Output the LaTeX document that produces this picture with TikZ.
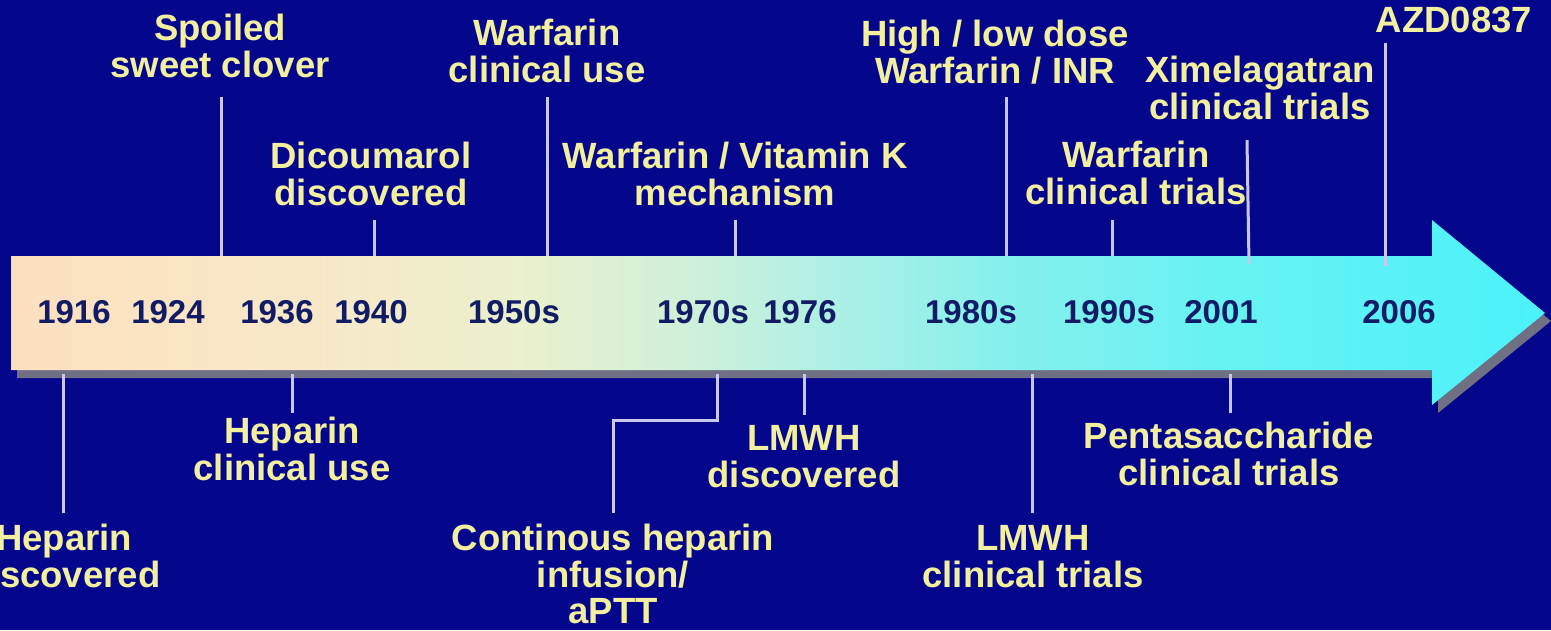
\documentclass[tikz,border=0pt]{standalone}
\usepackage{fontspec}
\setmainfont{Liberation Sans}
\definecolor{bg}{RGB}{4,6,140}
\definecolor{labc}{RGB}{242,240,158}
\definecolor{yrc}{RGB}{18,28,100}
\definecolor{tickc}{RGB}{200,200,236}
\definecolor{shadowc}{RGB}{112,112,132}
\definecolor{c0}{RGB}{252,224,192}
\definecolor{c1}{RGB}{248,232,200}
\definecolor{c2}{RGB}{235,240,205}
\definecolor{c3}{RGB}{205,240,218}
\definecolor{c4}{RGB}{170,240,230}
\definecolor{c5}{RGB}{135,240,236}
\definecolor{c6}{RGB}{105,242,242}
\definecolor{c7}{RGB}{75,242,250}
\pgfdeclarehorizontalshading{arrowshade}{100bp}{color(0bp)=(c0); color(25bp)=(c0); color(34.4bp)=(c1); color(41.6bp)=(c2); color(47.5bp)=(c3); color(52.3bp)=(c4); color(57.2bp)=(c5); color(63.8bp)=(c6); color(75bp)=(c7); color(100bp)=(c7)}
\newcommand\stk[1]{\begin{tabular}[t]{@{}c@{}}#1\end{tabular}}
\tikzset{
  lab/.style={text=labc, font=\fontsize{36.5}{36}\selectfont\bfseries, inner sep=0pt, anchor=base},
  yr/.style={text=yrc, font=\fontsize{33}{33}\selectfont\bfseries, inner sep=0pt, anchor=base},
  tickline/.style={draw=tickc, line width=3pt},
}
\begin{document}
\begin{tikzpicture}[x=1pt,y=-1pt]
\useasboundingbox (0,0) rectangle (1551,630);
\clip (0,0) rectangle (1551,630);
\fill[bg] (0,0) rectangle (1551,630);
% arrow shadow and arrow
\fill[shadowc] (17,264) -- (1438,264) -- (1438,228) -- (1551,321) -- (1438,413) -- (1438,378) -- (17,378) -- cycle;
\shade[shading=arrowshade] (11,256) -- (1432,256) -- (1432,220) -- (1545,313) -- (1432,405) -- (1432,370) -- (11,370) -- cycle;
% years
\node[yr] (y1916) at (74,323) {1916};
\node[yr] (y1924) at (168,323) {1924};
\node[yr] (y1936) at (277,323) {1936};
\node[yr] (y1940) at (371,323) {1940};
\node[yr] (y1950) at (514,323) {1950s};
\node[yr] (y1970) at (703,323) {1970s};
\node[yr] (y1976) at (800,323) {1976};
\node[yr] (y1980) at (971,323) {1980s};
\node[yr] (y1990) at (1109,323) {1990s};
\node[yr] (y2001) at (1221,323) {2001};
\node[yr] (y2006) at (1399,323) {2006};
% top labels
\node[lab] (sp) at (220,40) {\stk{Spoiled\\sweet clover}};
\node[lab] (dc) at (371,168) {\stk{Dicoumarol\\discovered}};
\node[lab] (wc) at (547,45) {\stk{Warfarin\\clinical use}};
\node[lab] (wv) at (735,168) {\stk{Warfarin / Vitamin K\\mechanism}};
\node[lab] (hl) at (995,46) {\stk{High / low dose\\Warfarin / INR}};
\node[lab] (xi) at (1260,82) {\stk{Ximelagatran\\clinical trials}};
\node[lab] (wt) at (1136,167) {\stk{Warfarin\\clinical trials}};
\node[lab] (az) at (1454,32) {AZD0837};
% bottom labels
\node[lab] (hd) at (64,550) {\stk{Heparin\\discovered}};
\node[lab] (hc) at (292,443) {\stk{Heparin\\clinical use}};
\node[lab] (ch) at (613,550) {\stk{Continous heparin\\infusion/\\aPTT}};
\node[lab] (lm) at (804,450) {\stk{LMWH\\discovered}};
\node[lab] (lc) at (1033,550) {\stk{LMWH\\clinical trials}};
\node[lab] (pc) at (1229,448) {\stk{Pentasaccharide\\clinical trials}};
% tick end points
\coordinate (sp1) at (221,97);   \coordinate (sp2) at (221,256);
\coordinate (dc1) at (374,220);  \coordinate (dc2) at (374,256);
\coordinate (wc1) at (547,97);   \coordinate (wc2) at (547,256);
\coordinate (wv1) at (735,220);  \coordinate (wv2) at (735,256);
\coordinate (hl1) at (1006,97);  \coordinate (hl2) at (1006,256);
\coordinate (xi1) at (1247,140); \coordinate (xi2) at (1249,264);
\coordinate (wt1) at (1112,220); \coordinate (wt2) at (1112,256);
\coordinate (az1) at (1385,43);  \coordinate (az2) at (1385,266);
\coordinate (hd1) at (63,374);   \coordinate (hd2) at (63,513);
\coordinate (hc1) at (292,374);  \coordinate (hc2) at (292,413);
\coordinate (ch1) at (717,374);  \coordinate (ch2) at (613,513);
\coordinate (lm1) at (804,374);  \coordinate (lm2) at (804,415);
\coordinate (lc1) at (1032,374); \coordinate (lc2) at (1032,513);
\coordinate (pc1) at (1230,374); \coordinate (pc2) at (1230,413);
% ticks
\draw[tickline] (sp1) -- (sp2);
\draw[tickline] (dc1) -- (dc2);
\draw[tickline] (wc1) -- (wc2);
\draw[tickline] (wv1) -- (wv2);
\draw[tickline] (hl1) -- (hl2);
\draw[tickline] (xi1) -- (xi2);
\draw[tickline] (wt1) -- (wt2);
\draw[tickline] (az1) -- (az2);
\draw[tickline] (hd1) -- (hd2);
\draw[tickline] (hc1) -- (hc2);
\draw[tickline] (ch1) -- (717,420) -- (613,420) -- (ch2);
\draw[tickline] (lm1) -- (lm2);
\draw[tickline] (lc1) -- (lc2);
\draw[tickline] (pc1) -- (pc2);
\end{tikzpicture}
\end{document}
